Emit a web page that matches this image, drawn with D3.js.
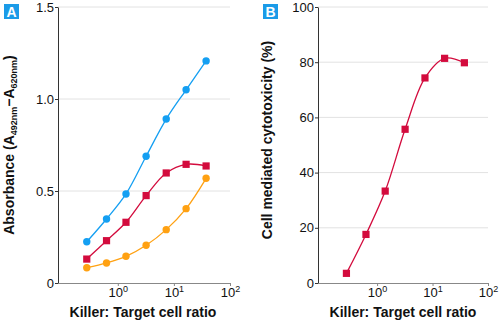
<!DOCTYPE html>
<html>
<head>
<meta charset="utf-8">
<script src="https://cdn.jsdelivr.net/npm/d3@7"></script>
<style>
body { margin: 0; background: #fff; }
text { font-family: "Liberation Sans", Arial, sans-serif; }
</style>
</head>
<body>
<div class="graph"></div>
<script>
const ratios = [0.28, 0.63, 1.4, 3.2, 7.3, 16.5, 37.5];
const absBlue = [0.224, 0.348, 0.484, 0.689, 0.891, 1.05, 1.207];
const absRed = [0.13, 0.23, 0.33, 0.475, 0.598, 0.645, 0.636];
const absOrange = [0.083, 0.109, 0.145, 0.205, 0.29, 0.404, 0.569];
const cytotox = [3.5, 17.6, 33.3, 55.7, 74.3, 81.4, 79.8];
const xTicks = [1, 10, 100];
const yTicksA = [0, 0.5, 1.0, 1.5];
const yTicksB = [0, 20, 40, 60, 80, 100];

const width = 500, height = 325;
const svg = d3.select('.graph')
    .append('svg')
    .attr('width', width)
    .attr('height', height);

const blue = '#149ff2', red = '#d30b3d', orange = '#ffa112';

function panel(opts) {
    const g = svg.append('g');
    const x = d3.scaleLog().domain([0.086, 100]).range([opts.left, opts.right]);
    const y = d3.scaleLinear().domain(opts.yDomain).range([283, 7]);

    // gridlines
    g.selectAll('.grid')
        .data(opts.yTicks.filter(d => d !== 0))
        .enter().append('line')
        .attr('x1', opts.left).attr('x2', opts.right)
        .attr('y1', d => y(d)).attr('y2', d => y(d))
        .attr('stroke', '#e2e2e2').attr('stroke-width', 1);

    const xAxis = g.append('g')
        .attr('transform', 'translate(0,283)')
        .call(d3.axisBottom(x).tickValues(xTicks).tickSize(3).tickSizeOuter(0).tickFormat(''));
    xAxis.select('.domain').attr('stroke', '#888');
    xAxis.selectAll('.tick line').attr('stroke', '#888');
    xAxis.selectAll('.tick').append('text')
        .attr('y', 14).attr('fill', '#111')
        .style('font-size', '13px')
        .attr('text-anchor', 'middle')
        .each(function(d) {
            const t = d3.select(this);
            t.append('tspan').text('10');
            t.append('tspan').attr('dy', -5).style('font-size', '9px').text(Math.round(Math.log10(d)));
        });

    const yAxis = g.append('g')
        .attr('transform', `translate(${opts.left},0)`)
        .call(d3.axisLeft(y).tickValues(opts.yTicks).tickSize(3).tickSizeOuter(0).tickFormat(opts.fmt));
    yAxis.select('.domain').attr('stroke', '#333');
    yAxis.selectAll('.tick line').attr('stroke', '#333');
    yAxis.selectAll('.tick text').attr('fill', '#111').style('font-size', '13px').attr('x', -4);

    // x title
    g.append('text')
        .attr('x', opts.titleX).attr('y', 317)
        .attr('text-anchor', 'middle')
        .style('font-size', '14px').style('font-weight', 'bold')
        .attr('fill', '#111')
        .text('Killer: Target cell ratio');

    // badge
    g.append('rect').attr('x', opts.badgeX).attr('y', 4).attr('width', 15).attr('height', 15).attr('fill', '#1a9be8');
    g.append('text').attr('x', opts.badgeX + 7.5).attr('y', 17)
        .attr('text-anchor', 'middle').attr('fill', '#fff')
        .style('font-size', '14px').style('font-weight', 'bold')
        .text(opts.badge);

    const line = d3.line()
        .x((d, i) => x(ratios[i]))
        .y(d => y(d))
        .curve(d3.curveCatmullRom.alpha(0.5));

    opts.series.forEach(s => {
        g.append('path')
            .datum(s.values)
            .attr('d', line)
            .attr('fill', 'none')
            .attr('stroke', s.color)
            .attr('stroke-width', 1.3);
        if (s.shape === 'circle') {
            g.selectAll(null).data(s.values).enter().append('circle')
                .attr('cx', (d, i) => x(ratios[i]))
                .attr('cy', d => y(d))
                .attr('r', 3.7)
                .attr('fill', s.color);
        } else {
            g.selectAll(null).data(s.values).enter().append('rect')
                .attr('x', (d, i) => x(ratios[i]) - 3.6)
                .attr('y', d => y(d) - 3.6)
                .attr('width', 7.2).attr('height', 7.2)
                .attr('fill', s.color);
        }
    });
    return g;
}

const gA = panel({
    left: 58, right: 230, yDomain: [0, 1.5], yTicks: yTicksA,
    fmt: d => d === 0 ? '0' : d3.format('.1f')(d),
    titleX: 143, badge: 'A', badgeX: 4,
    series: [
        { values: absBlue, color: blue, shape: 'circle' },
        { values: absRed, color: red, shape: 'square' },
        { values: absOrange, color: orange, shape: 'circle' }
    ]
});

const gB = panel({
    left: 318, right: 488, yDomain: [0, 100], yTicks: yTicksB,
    fmt: d3.format('d'),
    titleX: 403, badge: 'B', badgeX: 263,
    series: [
        { values: cytotox, color: red, shape: 'square' }
    ]
});

// y titles
const yA = gA.append('text')
    .attr('transform', 'translate(14,145) rotate(-90)')
    .attr('text-anchor', 'middle')
    .style('font-size', '14px').style('font-weight', 'bold')
    .attr('fill', '#111');
yA.append('tspan').text('Absorbance (A');
yA.append('tspan').attr('dy', 3).style('font-size', '9px').text('492nm');
yA.append('tspan').attr('dy', -3).text('\u2212A');
yA.append('tspan').attr('dy', 3).style('font-size', '9px').text('620nm');
yA.append('tspan').attr('dy', -3).text(')');

gB.append('text')
    .attr('transform', 'translate(272,140) rotate(-90)')
    .attr('text-anchor', 'middle')
    .style('font-size', '14px').style('font-weight', 'bold')
    .attr('fill', '#111')
    .text('Cell mediated cytotoxicity (%)');
</script>
</body>
</html>
